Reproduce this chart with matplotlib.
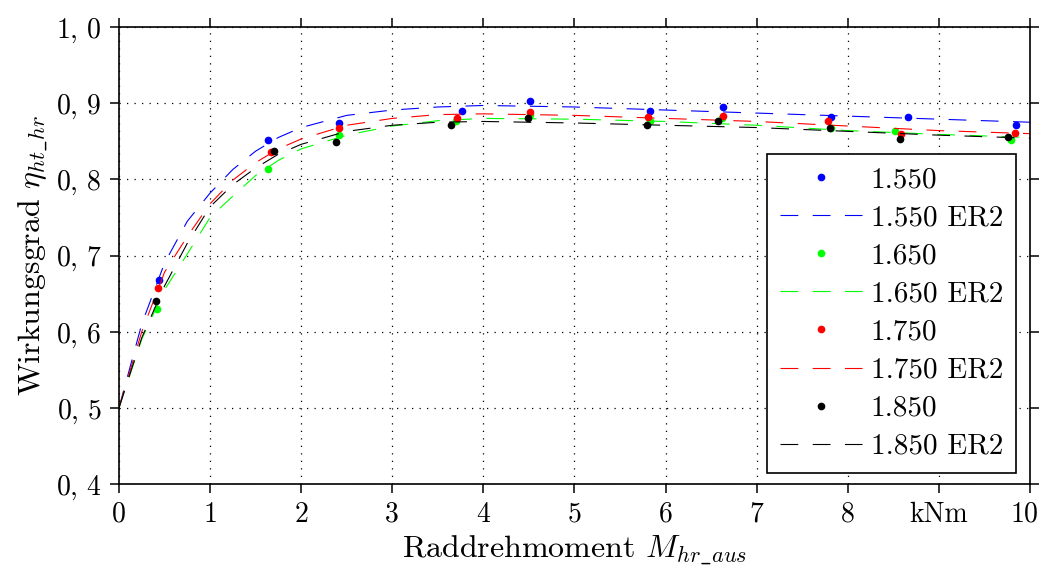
import numpy as np
import matplotlib
matplotlib.use("Agg")
import matplotlib.pyplot as plt
import matplotlib.transforms as mtransforms

plt.rcParams['font.family'] = 'serif'
plt.rcParams['font.serif'] = ['cmr10', 'DejaVu Serif']
plt.rcParams['mathtext.fontset'] = 'cm'
plt.rcParams['axes.unicode_minus'] = False

# measured efficiency points (torque in kNm, efficiency)
m_1550 = [0.44, 1.64, 2.41, 3.77, 4.51, 5.83, 6.63, 7.82, 8.66, 9.85]
eta_1550 = [0.668, 0.852, 0.874, 0.890, 0.903, 0.890, 0.895, 0.882, 0.882, 0.872]
m_1650 = [0.42, 1.64, 2.41, 3.70, 4.51, 5.83, 6.62, 7.82, 8.52, 9.79]
eta_1650 = [0.630, 0.813, 0.858, 0.877, 0.884, 0.877, 0.880, 0.867, 0.863, 0.851]
m_1750 = [0.43, 1.67, 2.42, 3.71, 4.51, 5.81, 6.63, 7.78, 8.58, 9.84]
eta_1750 = [0.657, 0.836, 0.868, 0.881, 0.889, 0.882, 0.883, 0.876, 0.859, 0.861]
m_1850 = [0.41, 1.70, 2.38, 3.64, 4.49, 5.80, 6.58, 7.81, 8.57, 9.76]
eta_1850 = [0.640, 0.837, 0.849, 0.872, 0.880, 0.872, 0.877, 0.868, 0.853, 0.855]

# fitted ER2 curves
m_fit = [0, 0.25, 0.5, 0.75, 1.0, 1.25, 1.5, 1.75, 2.0, 2.5, 3.0, 3.5, 4.0,
         5.0, 6.0, 7.0, 8.0, 9.0, 10.0]
fit_1550 = [0.500, 0.610, 0.690, 0.745, 0.782, 0.813, 0.837, 0.855, 0.868, 0.884,
            0.891, 0.895, 0.897, 0.895, 0.891, 0.887, 0.883, 0.879, 0.875]
fit_1650 = [0.500, 0.590, 0.655, 0.702, 0.750, 0.778, 0.805, 0.825, 0.840, 0.858,
            0.870, 0.877, 0.880, 0.879, 0.876, 0.871, 0.864, 0.859, 0.855]
fit_1750 = [0.500, 0.600, 0.678, 0.725, 0.768, 0.799, 0.822, 0.840, 0.853, 0.871,
            0.880, 0.885, 0.886, 0.884, 0.880, 0.876, 0.870, 0.864, 0.860]
fit_1850 = [0.500, 0.592, 0.660, 0.716, 0.764, 0.793, 0.815, 0.833, 0.846, 0.863,
            0.871, 0.875, 0.876, 0.874, 0.871, 0.868, 0.863, 0.858, 0.854]

x_ticks = [0, 1, 2, 3, 4, 5, 6, 7, 8, 9, 10]
x_ticklabels = ['0', '1', '2', '3', '4', '5', '6', '7', '8', 'kNm', '10']
y_ticks = [0.4, 0.5, 0.6, 0.7, 0.8, 0.9, 1.0]
y_ticklabels = [r'$0,\,4$', r'$0,\,5$', r'$0,\,6$', r'$0,\,7$', r'$0,\,8$',
                r'$0,\,9$', r'$1,\,0$']

series = [
    ('1.550', m_1550, eta_1550, fit_1550, (0, 0, 1)),
    ('1.650', m_1650, eta_1650, fit_1650, (0, 1, 0)),
    ('1.750', m_1750, eta_1750, fit_1750, (1, 0, 0)),
    ('1.850', m_1850, eta_1850, fit_1850, (0, 0, 0)),
]

fig = plt.figure(figsize=(10.41, 5.70), dpi=100)
ax = fig.add_axes([0.1143, 0.1509, 0.8751, 0.8017])

for name, m, eta, fit, col in series:
    ax.plot(m, eta, linestyle='none', marker='o', markersize=4.5,
            color=col, label=name)
    ln, = ax.plot(m_fit, fit, color=col, linewidth=0.8, label=name + ' ER2')
    ln.set_dashes((16, 13))

ax.set_xlim(0, 10)
ax.set_ylim(0.4, 1.0)
ax.set_xticks(x_ticks)
ax.set_xticklabels(x_ticklabels)
ax.set_yticks(y_ticks)
ax.set_yticklabels(y_ticklabels)
ax.tick_params(direction='out', top=True, right=True, length=6.5, width=1.1,
               labelsize=20, pad=6)
ax.tick_params(axis='x', pad=6)
for sp in ax.spines.values():
    sp.set_linewidth(1.2)
ax.grid(True, color='black', linestyle=(0, (1, 5)), linewidth=0.9)

# nudge the last x label so it stays inside the figure
last = ax.get_xticklabels()[-1]
last.set_transform(last.get_transform() +
                   mtransforms.ScaledTranslation(-5 / 100, 0, fig.dpi_scale_trans))

ax.set_xlabel(r'Raddrehmoment $M_{hr\_aus}$', fontsize=23, labelpad=4)
ax.set_ylabel(r'Wirkungsgrad $\eta_{ht\_hr}$', fontsize=23, labelpad=4)

leg = ax.legend(loc='lower right', bbox_to_anchor=(0.985, 0.024), fontsize=21,
                handlelength=2.8, fancybox=False, edgecolor='black',
                framealpha=1, borderpad=0.45, labelspacing=0.4,
                handletextpad=0.3, borderaxespad=0)
leg.get_frame().set_linewidth(1.2)

fig.savefig('out.png', dpi=100)
